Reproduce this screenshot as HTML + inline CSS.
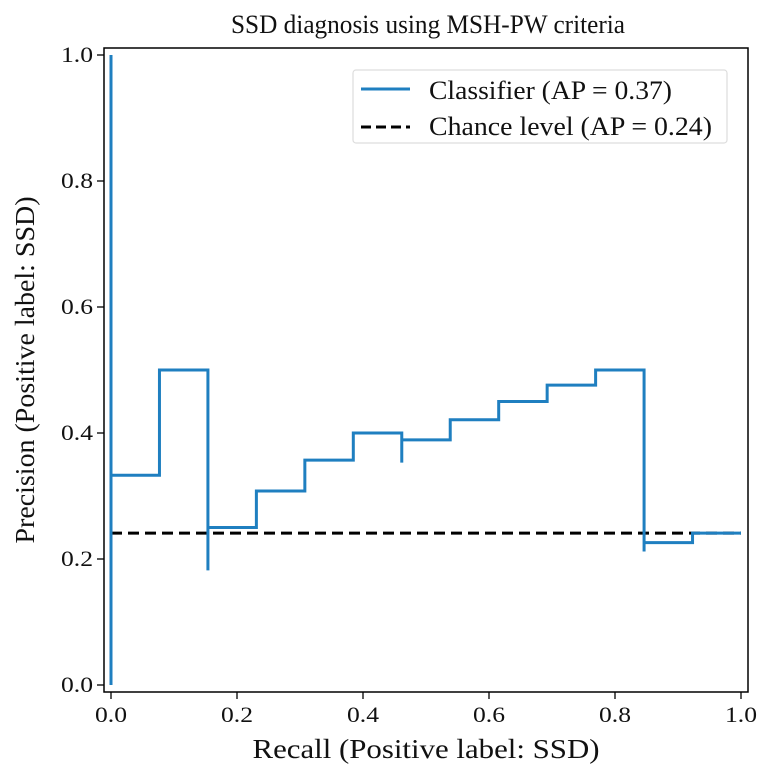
<!DOCTYPE html>
<html><head><meta charset="utf-8">
<style>
html,body{margin:0;padding:0;background:#fff;}
svg{display:block;font-family:"Liberation Serif",serif;}
</style></head>
<body>
<svg id="chart" width="769" height="783" viewBox="0 0 769 783">
<text x="428" y="33" font-size="26" text-anchor="middle" textLength="394" lengthAdjust="spacingAndGlyphs" fill="#111">SSD diagnosis using MSH-PW criteria</text>
<g id="plot"></g>
<text x="426" y="758" font-size="27" text-anchor="middle" textLength="347" lengthAdjust="spacingAndGlyphs" fill="#111">Recall (Positive label: SSD)</text>
<text transform="translate(34,370) rotate(-90)" font-size="27" text-anchor="middle" textLength="347" lengthAdjust="spacingAndGlyphs" fill="#111">Precision (Positive label: SSD)</text>
<g>
<rect x="353" y="70" width="374" height="73" rx="3" fill="#fff" stroke="#ddd" stroke-width="1.2"/>
<line x1="361" y1="89" x2="410" y2="89" stroke="#1f7fc0" stroke-width="3"/>
<text x="429" y="99" font-size="26" textLength="243" lengthAdjust="spacingAndGlyphs" fill="#111">Classifier (AP = 0.37)</text>
<line x1="361" y1="127" x2="410" y2="127" stroke="#000" stroke-width="3" stroke-dasharray="10,5"/>
<text x="429" y="135" font-size="26" textLength="283" lengthAdjust="spacingAndGlyphs" fill="#111">Chance level (AP = 0.24)</text>
</g>
</svg>
<script>
const recall = [1, 12/13, 11/13, 11/13, 10/13, 9/13, 8/13, 7/13, 6/13, 6/13, 5/13, 4/13, 3/13, 2/13, 2/13, 1/13, 0, 0];
const precision = [0.241, 0.226, 0.212, 0.5, 0.476, 0.45, 0.421, 0.389, 0.353, 0.4, 0.357, 0.308, 0.25, 0.182, 0.5, 0.333, 0.0, 1.0];
const chanceLevel = [0.241];
const xTicks = [0, 0.2, 0.4, 0.6, 0.8, 1.0];
const yTicks = [0, 0.2, 0.4, 0.6, 0.8, 1.0];
const tickLabels = ["0.0","0.2","0.4","0.6","0.8","1.0"];

const NS = "http://www.w3.org/2000/svg";
const g = document.getElementById("plot");
const X0 = 111, SC = 630, Y0 = 685;
function sx(v){ return X0 + v*SC; }
function sy(v){ return Y0 - v*SC; }
function mk(tag, attrs){ const e = document.createElementNS(NS, tag); for (const k in attrs) e.setAttribute(k, attrs[k]); g.appendChild(e); return e; }

xTicks.forEach((t,i)=>{
  const l = mk("line",{x1:sx(t),x2:sx(t),y1:692,y2:699,stroke:"#000","stroke-width":1.3});
  
  
  const tx = mk("text",{x:sx(t),y:722,"font-size":22,"text-anchor":"middle",textLength:32,lengthAdjust:"spacingAndGlyphs",fill:"#111"});
  tx.textContent = tickLabels[i];
  
  
});
yTicks.forEach((t,i)=>{
  const l = mk("line",{x1:97,x2:104,y1:sy(t),y2:sy(t),stroke:"#000","stroke-width":1.3});
  
  
  const tx = mk("text",{x:93,y:sy(t)+7,"font-size":22,"text-anchor":"end",textLength:32,lengthAdjust:"spacingAndGlyphs",fill:"#111"});
  tx.textContent = tickLabels[i];
  
  
});

const ch = mk("line",{x1:sx(0),x2:sx(1),y1:sy(chanceLevel[0]),y2:sy(chanceLevel[0]),stroke:"#000","stroke-width":3,"stroke-dasharray":"11,6"});



let d = "M" + sx(recall[0]) + "," + sy(precision[0]);
for (let i=1;i<recall.length;i++){
  d += " L" + sx(recall[i]) + "," + sy(precision[i-1]);
  d += " L" + sx(recall[i]) + "," + sy(precision[i]);
}
const p = mk("path",{d:d,fill:"none",stroke:"#1f7fc0","stroke-width":3,"stroke-linejoin":"miter"});



const fr = mk("rect",{x:104,y:48,width:644,height:644,fill:"none",stroke:"#000","stroke-width":1.5});


</script>
</body></html>
